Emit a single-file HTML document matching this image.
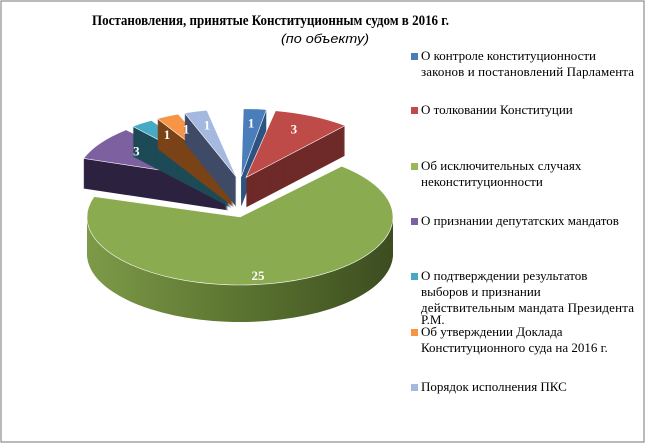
<!DOCTYPE html>
<html><head><meta charset="utf-8"><style>
body{margin:0;background:#fff;}
svg{display:block;font-family:"Liberation Serif","DejaVu Serif",serif;}
</style></head><body>
<svg id="s" width="646" height="444" viewBox="0 0 646 444" xmlns="http://www.w3.org/2000/svg">
<rect x="1" y="1" width="643" height="441" fill="#fff" stroke="#8c8c8c" stroke-width="1.2"/>
<text x="92" y="25" font-size="14.5" font-weight="bold" fill="#000" textLength="357" lengthAdjust="spacingAndGlyphs">Постановления, принятые Конституционным судом в 2016 г.</text>
<text x="281" y="43" font-size="13" font-style="italic" font-family="Liberation Sans, sans-serif" fill="#000" textLength="88" lengthAdjust="spacingAndGlyphs">(по объекту)</text>
<g id="pie"></g>
<g font-size="13" fill="#000">
<rect x="411" y="53" width="7" height="7" fill="#4a7ebb"/>
<text x="421" y="60">О контроле конституционности</text>
<text x="421" y="76" textLength="213">законов и постановлений Парламента</text>
<rect x="411" y="107" width="7" height="7" fill="#be4b48"/>
<text x="421" y="114">О толковании Конституции</text>
<rect x="411" y="163" width="7" height="7" fill="#98b954"/>
<text x="421" y="170">Об исключительных  случаях</text>
<text x="421" y="186">неконституционности</text>
<rect x="411" y="218" width="7" height="7" fill="#7d60a0"/>
<text x="421" y="225">О признании депутатских  мандатов</text>
<rect x="411" y="273" width="7" height="7" fill="#46aac5"/>
<text x="421" y="280">О подтверждении  результатов</text>
<text x="421" y="296">выборов и признании</text>
<text x="421" y="312" textLength="213">действительным  мандата Президента</text>
<text x="421" y="324">Р.М.</text>
<rect x="411" y="329" width="7" height="7" fill="#f69546"/>
<text x="421" y="336">Об утверждении Доклада</text>
<text x="421" y="352">Конституционного  суда на 2016  г.</text>
<rect x="411" y="384" width="7" height="7" fill="#a5b8e0"/>
<text x="421" y="391">Порядок исполнения  ПКС</text>
</g>
</svg>
<script>
(function(){
var g=document.getElementById('pie');var NS='http://www.w3.org/2000/svg';
var rx=153,ry=68;
function pt(cx,cy,a){var r=a*Math.PI/180;return [cx+rx*Math.sin(r),cy-ry*Math.cos(r)];}
function path(cx,cy,a0,a1){var p0=pt(cx,cy,a0),p1=pt(cx,cy,a1);var large=(a1-a0)>180?1:0;
return 'M'+cx+','+cy+' L'+p0[0]+','+p0[1]+' A'+rx+','+ry+' 0 '+large+' 1 '+p1[0]+','+p1[1]+' Z';}
function add(d,fill){var e=document.createElementNS(NS,'path');e.setAttribute('d',d);e.setAttribute('fill',fill);g.appendChild(e);return e;}
function slice(cx,cy,a0,a1,top,side,depth){
for(var k=depth;k>0;k--){add(path(cx,cy+k,a0,a1),side);}
var e=add(path(cx,cy,a0,a1),top);e.setAttribute('stroke','#fff');e.setAttribute('stroke-width','0.6');}
var u=360/35;
var sm=[[0,1,'#4a7ebb','#2f5480'],[1,4,'#be4b48','#6e2a28'],[28,31,'#7d60a0','#2c2240'],[31,32,'#46aac5','#1d4a56'],[32,33,'#f69546','#7a4317'],[33,34,'#a5b8e0','#3e4a66']];
var order=[2,3,4,5,0,1];
var labels=[];
order.forEach(function(i){var s=sm[i];var a0=s[0]*u,a1=s[1]*u,m=(a0+a1)/2*Math.PI/180;
var ex=14;var cx=240+ex*Math.sin(m),cy=185-ex*0.6*Math.cos(m);
slice(cx,cy,a0+0.8,a1-0.8,s[2],s[3],30);
var lp=[cx+rx*0.72*Math.sin(m),cy-ry*0.8*Math.cos(m)];labels.push([lp,(s[1]-s[0])]);});
var gs=document.createElementNS(NS,'defs');gs.innerHTML='<linearGradient id="gg" x1="0" x2="1" y1="0" y2="0"><stop offset="0" stop-color="#7d9a48"/><stop offset="0.5" stop-color="#5b7430"/><stop offset="1" stop-color="#3c4d20"/></linearGradient>';g.appendChild(gs);
slice(240,217,4*u+0.5,28*u-0.5,'#8aab4f','url(#gg)',37);
labels.forEach(function(l){var t=document.createElementNS(NS,'text');t.setAttribute('x',l[0][0]);t.setAttribute('y',l[0][1]+5);t.setAttribute('text-anchor','middle');t.setAttribute('font-size','13');t.setAttribute('font-weight','bold');t.setAttribute('fill','#fff');t.textContent=l[1];g.appendChild(t);});
var t=document.createElementNS(NS,'text');t.setAttribute('x','258');t.setAttribute('y','280');t.setAttribute('text-anchor','middle');t.setAttribute('font-size','13');t.setAttribute('font-weight','bold');t.setAttribute('fill','#fff');t.textContent='25';g.appendChild(t);
})();
</script>
</body></html>
